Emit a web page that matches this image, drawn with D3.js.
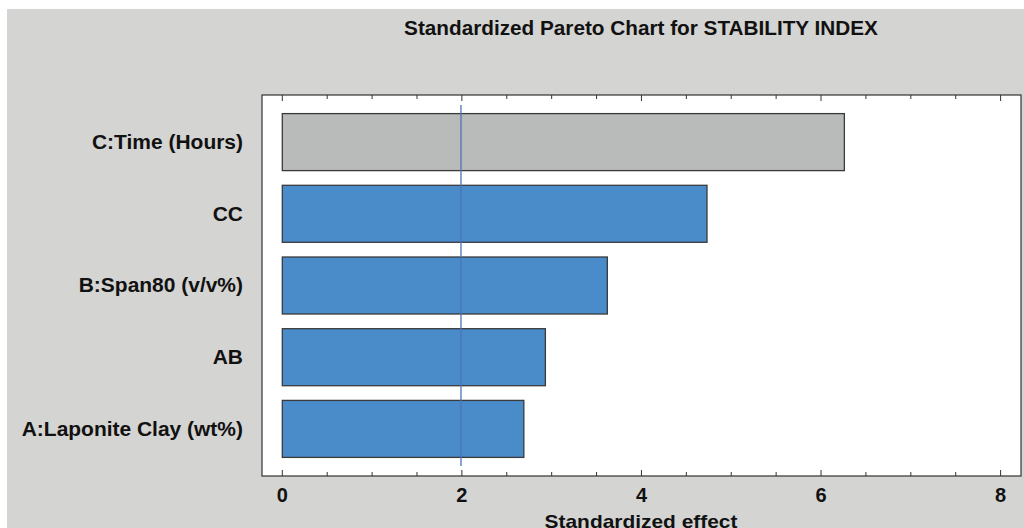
<!DOCTYPE html>
<html><head><meta charset="utf-8">
<script src="https://cdn.jsdelivr.net/npm/d3@7"></script>
<style>html,body{margin:0;padding:0;background:#fff;}svg{display:block;}</style>
</head><body>
<script>
const categories = ["C:Time (Hours)", "CC", "B:Span80 (v/v%)", "AB", "A:Laponite Clay (wt%)"];
const effects = [6.26, 4.73, 3.62, 2.93, 2.69];
const barKinds = ["neg", "pos", "pos", "pos", "pos"];
const xTicks = [0, 2, 4, 6, 8];
const criticalValue = 1.99;
const title = "Standardized Pareto Chart for STABILITY INDEX";
const xLabel = "Standardized effect";

const W = 1024, H = 528;
const svg = d3.select("body").append("svg").attr("width", W).attr("height", H);
svg.append("rect").attr("width", W).attr("height", H).attr("fill", "#ffffff");
svg.append("rect").attr("x", 7).attr("y", 9).attr("width", W - 7).attr("height", H - 9).attr("fill", "#d4d4d2");

const plot = {left: 262, right: 1021, top: 95, bottom: 476};
svg.append("rect").attr("x", plot.left).attr("y", plot.top)
  .attr("width", plot.right - plot.left).attr("height", plot.bottom - plot.top)
  .attr("fill", "#ffffff").attr("stroke", "#333").attr("stroke-width", 1.2);

const x = d3.scaleLinear().domain([0, 8]).range([282.3, 1000.6]);
const y = d3.scaleBand().domain(categories).range([105, 466]).paddingInner(0.205).paddingOuter(0.12);

const colors = {neg: "#b9baba", pos: "#4a8bc9"};
svg.append("g").selectAll("rect").data(categories).join("rect")
  .attr("x", x(0)).attr("y", d => y(d))
  .attr("width", (d, i) => x(effects[i]) - x(0)).attr("height", y.bandwidth())
  .attr("fill", (d, i) => colors[barKinds[i]]).attr("stroke", "#3a3a3a").attr("stroke-width", 1.3);

// critical value line
svg.append("line").attr("x1", x(criticalValue)).attr("x2", x(criticalValue))
  .attr("y1", 105).attr("y2", 466).attr("stroke", "#4a74b8").attr("stroke-width", 1.3);

// ticks (top and bottom, inward)
const minor = d3.range(0, 8.01, 0.5);
const tg = svg.append("g").attr("stroke", "#333").attr("stroke-width", 1);
minor.forEach(v => {
  const len = (v % 2 === 0) ? 6 : 4;
  tg.append("line").attr("x1", x(v)).attr("x2", x(v)).attr("y1", plot.bottom).attr("y2", plot.bottom - len);
  tg.append("line").attr("x1", x(v)).attr("x2", x(v)).attr("y1", plot.top).attr("y2", plot.top + len);
});

const font = "Arial, 'Liberation Sans', sans-serif";
function stretch(sel, k) {
  sel.each(function() {
    const w = this.getComputedTextLength();
    d3.select(this).attr("textLength", w * k).attr("lengthAdjust", "spacingAndGlyphs");
  });
}

svg.append("g").selectAll("text").data(xTicks).join("text")
  .attr("x", d => x(d)).attr("y", 501.5).attr("text-anchor", "middle")
  .attr("font-family", font).attr("font-weight", "bold").attr("font-size", 20).attr("fill", "#111")
  .text(d => d);

const yl = svg.append("g").selectAll("text").data(categories).join("text")
  .attr("x", 243).attr("y", d => y(d) + y.bandwidth() / 2).attr("dy", "0.35em").attr("text-anchor", "end")
  .attr("font-family", font).attr("font-weight", "bold").attr("font-size", 19.5).attr("fill", "#111")
  .text(d => d);
stretch(yl, 1.075);

const tt = svg.append("text").attr("x", 641).attr("y", 35).attr("text-anchor", "middle")
  .attr("font-family", font).attr("font-weight", "bold").attr("font-size", 19.5).attr("fill", "#111")
  .text(title);
stretch(tt, 1.063);

const xl = svg.append("text").attr("x", 641).attr("y", 527.5).attr("text-anchor", "middle")
  .attr("font-family", font).attr("font-weight", "bold").attr("font-size", 19).attr("fill", "#111")
  .text(xLabel);
stretch(xl, 1.1);
</script>
</body></html>
